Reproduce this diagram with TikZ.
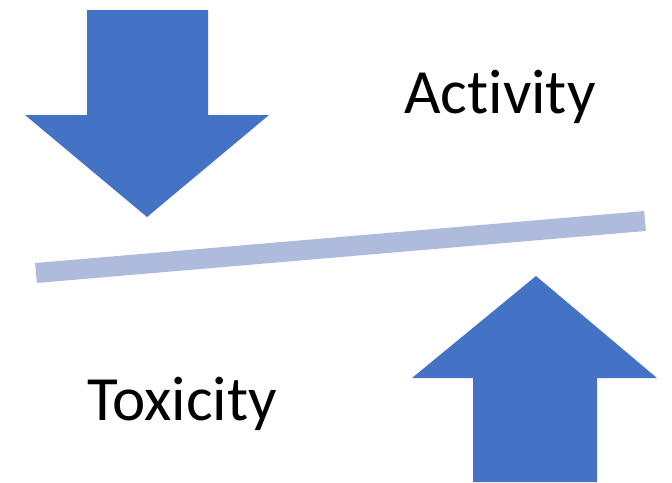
\documentclass[tikz,border=0pt]{standalone}
\usepackage{fontspec}
\setmainfont[RawFeature=-liga]{Carlito}
\usepackage{tikz}
\usetikzlibrary{arrows.meta}
\definecolor{arrowblue}{HTML}{4472C4}
\definecolor{beamblue}{HTML}{AFBBDD}
\tikzset{
  bigarrow/.style={fill=arrowblue,draw=none},
  beam/.style={draw=beamblue,line width=20pt,line cap=butt},
  word/.style={font=\fontsize{63}{72}\selectfont,anchor=base,inner sep=0pt}
}

\begin{document}
\begin{tikzpicture}[x=1pt,y=-1pt]
\useasboundingbox (0,0) rectangle (672,482);
% down arrow, top left
\fill[bigarrow] (87,10) -- (208,10) -- (208,115) -- (269,115) -- (147,217) -- (25,115) -- (87,115) -- cycle;
% up arrow, bottom right
\fill[bigarrow] (536,276) -- (657,378) -- (597,378) -- (597,482) -- (473,482) -- (473,378) -- (412,378) -- cycle;
% tilted beam
\coordinate (lo) at (36,273);
\coordinate (hi) at (645,221);
\draw[beam] (lo) -- (hi);
\node[word] (activity) at (500,113) {Activity};
\node[word] (toxicity) at (182,420) {Toxicity};
\end{tikzpicture}
\end{document}
